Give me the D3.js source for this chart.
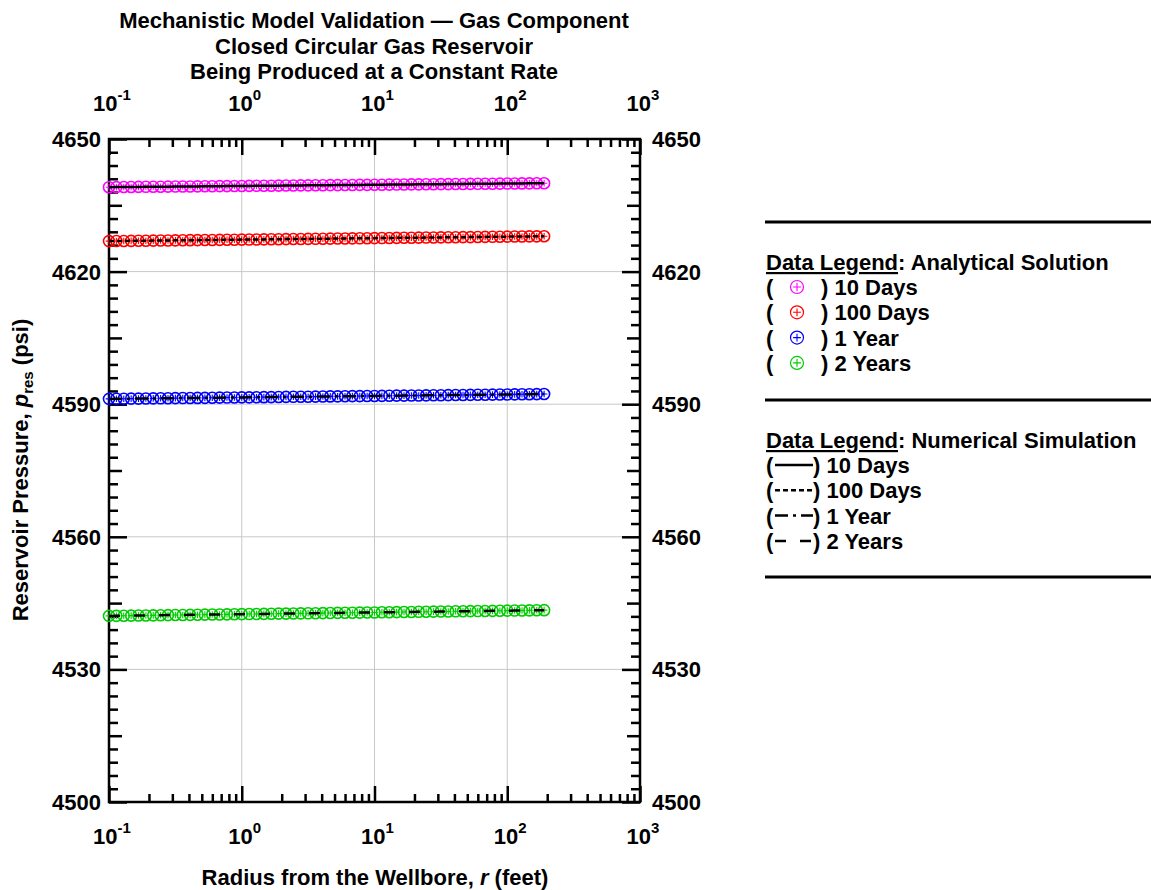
<!DOCTYPE html>
<html lang="en">
<head>
<meta charset="UTF-8">
<title>Mechanistic Model Validation</title>
<script src="https://d3js.org/d3.v7.min.js"></script>
<style>
body { margin: 0; background: #fff; }
text { font-family: "Liberation Sans", Arial, sans-serif; font-weight: bold; fill: #000; }
</style>
</head>
<body>
<svg id="chart" width="1151" height="890"></svg>
<script>
// radius grid (feet), log spaced, 18 per decade
var radius = [0.1, 0.1137, 0.1292, 0.1468, 0.1668, 0.1896, 0.2154, 0.2448, 0.2783, 0.3162,
  0.3594, 0.4084, 0.4642, 0.5275, 0.5995, 0.6813, 0.7743, 0.8799, 1, 1.137,
  1.292, 1.468, 1.668, 1.896, 2.154, 2.448, 2.783, 3.162, 3.594, 4.084,
  4.642, 5.275, 5.995, 6.813, 7.743, 8.799, 10, 11.37, 12.92, 14.68,
  16.68, 18.96, 21.54, 24.48, 27.83, 31.62, 35.94, 40.84, 46.42, 52.75,
  59.95, 68.13, 77.43, 87.99, 100, 113.7, 129.2, 146.8, 166.8, 189.6];

// reservoir pressure (psi) per time
var p10Days = [4639.10, 4639.12, 4639.13, 4639.15, 4639.16, 4639.18, 4639.19, 4639.21, 4639.22, 4639.24,
  4639.25, 4639.27, 4639.28, 4639.30, 4639.31, 4639.33, 4639.34, 4639.36, 4639.37, 4639.39,
  4639.41, 4639.42, 4639.44, 4639.45, 4639.47, 4639.48, 4639.50, 4639.51, 4639.53, 4639.54,
  4639.56, 4639.57, 4639.59, 4639.60, 4639.62, 4639.63, 4639.65, 4639.66, 4639.68, 4639.69,
  4639.71, 4639.73, 4639.74, 4639.76, 4639.77, 4639.79, 4639.80, 4639.82, 4639.83, 4639.85,
  4639.86, 4639.88, 4639.89, 4639.91, 4639.92, 4639.94, 4639.95, 4639.97, 4639.98, 4640.00];
var p100Days = [4626.90, 4626.92, 4626.94, 4626.96, 4626.97, 4626.99, 4627.01, 4627.03, 4627.05, 4627.07,
  4627.09, 4627.11, 4627.12, 4627.14, 4627.16, 4627.18, 4627.20, 4627.22, 4627.24, 4627.25,
  4627.27, 4627.29, 4627.31, 4627.33, 4627.35, 4627.37, 4627.38, 4627.40, 4627.42, 4627.44,
  4627.46, 4627.48, 4627.50, 4627.52, 4627.53, 4627.55, 4627.57, 4627.59, 4627.61, 4627.63,
  4627.65, 4627.66, 4627.68, 4627.70, 4627.72, 4627.74, 4627.76, 4627.78, 4627.79, 4627.81,
  4627.83, 4627.85, 4627.87, 4627.89, 4627.91, 4627.93, 4627.94, 4627.96, 4627.98, 4628.00];
var p1Year = [4591.20, 4591.22, 4591.24, 4591.26, 4591.27, 4591.29, 4591.31, 4591.33, 4591.35, 4591.37,
  4591.39, 4591.41, 4591.42, 4591.44, 4591.46, 4591.48, 4591.50, 4591.52, 4591.54, 4591.55,
  4591.57, 4591.59, 4591.61, 4591.63, 4591.65, 4591.67, 4591.68, 4591.70, 4591.72, 4591.74,
  4591.76, 4591.78, 4591.80, 4591.82, 4591.83, 4591.85, 4591.87, 4591.89, 4591.91, 4591.93,
  4591.95, 4591.96, 4591.98, 4592.00, 4592.02, 4592.04, 4592.06, 4592.08, 4592.09, 4592.11,
  4592.13, 4592.15, 4592.17, 4592.19, 4592.21, 4592.23, 4592.24, 4592.26, 4592.28, 4592.30];
var p2Years = [4542.10, 4542.12, 4542.14, 4542.17, 4542.19, 4542.21, 4542.23, 4542.25, 4542.28, 4542.30,
  4542.32, 4542.34, 4542.36, 4542.39, 4542.41, 4542.43, 4542.45, 4542.47, 4542.50, 4542.52,
  4542.54, 4542.56, 4542.58, 4542.61, 4542.63, 4542.65, 4542.67, 4542.69, 4542.72, 4542.74,
  4542.76, 4542.78, 4542.81, 4542.83, 4542.85, 4542.87, 4542.89, 4542.92, 4542.94, 4542.96,
  4542.98, 4543.00, 4543.03, 4543.05, 4543.07, 4543.09, 4543.11, 4543.14, 4543.16, 4543.18,
  4543.20, 4543.22, 4543.25, 4543.27, 4543.29, 4543.31, 4543.33, 4543.36, 4543.38, 4543.40];

var seriesNames = ["10 Days", "100 Days", "1 Year", "2 Years"];
var yTickValues = [4500, 4530, 4560, 4590, 4620, 4650];
var xDecades = [0.1, 1, 10, 100, 1000];
var xExponents = ["-1", "0", "1", "2", "3"];
var titleLines = ["Mechanistic Model Validation \u2014 Gas Component",
  "Closed Circular Gas Reservoir", "Being Produced at a Constant Rate"];

// styles
var markerColors = ["#ff00ff", "#ff0000", "#0000ff", "#00cc00"];
var dashStyles = [null, "5,3", "13,5,3,5", "11,14"];

var svg = d3.select("#chart");
var L = 109, R = 640, T = 139, B = 802;

var x = d3.scaleLog().domain([0.1, 1000]).range([L, R]);
var y = d3.scaleLinear().domain([4500, 4650]).range([B, T]);

var series = [p10Days, p100Days, p1Year, p2Years].map(function(p, i) {
  return { name: seriesNames[i], pts: radius.map(function(r, j) { return { r: r, p: p[j] }; }) };
});

// title
svg.selectAll(".title").data(titleLines).enter().append("text")
  .attr("x", 374).attr("y", function(d, i) { return 28 + i * 25.5; })
  .attr("text-anchor", "middle").style("font-size", "22px").text(function(d) { return d; });

// grid
var grid = svg.append("g").attr("stroke", "#c8c8c8").attr("stroke-width", 1);
grid.selectAll(".gx").data([1, 10, 100]).enter().append("line")
  .attr("x1", function(d) { return x(d); }).attr("x2", function(d) { return x(d); })
  .attr("y1", T).attr("y2", B);
grid.selectAll(".gy").data([4530, 4560, 4590, 4620]).enter().append("line")
  .attr("y1", function(d) { return y(d); }).attr("y2", function(d) { return y(d); })
  .attr("x1", L).attr("x2", R);

// axes, ticks inward
var minorX = [];
[0.1, 1, 10, 100].forEach(function(d) { for (var k = 2; k <= 9; k++) minorX.push(d * k); });
var minorY = d3.range(4500, 4651, 3).filter(function(v) { return (v - 4500) % 15 !== 0; });
var midY = [4515, 4545, 4575, 4605, 4635];

function axisG(axis, tx, ty) {
  var g = svg.append("g").attr("transform", "translate(" + tx + "," + ty + ")").call(axis);
  g.select(".domain").remove();
  g.selectAll("line").attr("stroke", "#000").attr("stroke-width", 2.5);
  g.selectAll("text").remove();
  return g;
}
[[d3.axisBottom, B], [d3.axisTop, T]].forEach(function(a) {
  axisG(a[0](x).tickValues(minorX).tickSize(-8).tickFormat(""), 0, a[1]);
  axisG(a[0](x).tickValues(xDecades).tickSize(-16).tickFormat(""), 0, a[1]);
});
[[d3.axisLeft, L], [d3.axisRight, R]].forEach(function(a) {
  axisG(a[0](y).tickValues(minorY).tickSize(-9).tickFormat(""), a[1], 0);
  axisG(a[0](y).tickValues(midY).tickSize(-13).tickFormat(""), a[1], 0);
  axisG(a[0](y).tickValues(yTickValues).tickSize(-18).tickFormat(""), a[1], 0);
});

svg.append("rect").attr("x", L).attr("y", T).attr("width", R - L).attr("height", B - T)
  .attr("fill", "none").attr("stroke", "#000").attr("stroke-width", 2.5);

// tick labels
[111, 844].forEach(function(ty) {
  var t = svg.selectAll(null).data(xDecades).enter().append("text")
    .attr("x", function(d) { return x(d) + 3; }).attr("y", ty)
    .attr("text-anchor", "middle").style("font-size", "22px");
  t.append("tspan").text("10");
  t.append("tspan").attr("dy", -11).style("font-size", "15px").text(function(d, i) { return xExponents[i]; });
});
svg.selectAll(null).data(yTickValues).enter().append("text")
  .attr("x", L - 8).attr("y", function(d) { return y(d) + 8; })
  .attr("text-anchor", "end").style("font-size", "22px").text(function(d) { return d; });
svg.selectAll(null).data(yTickValues).enter().append("text")
  .attr("x", R + 12).attr("y", function(d) { return y(d) + 8; })
  .style("font-size", "22px").text(function(d) { return d; });

// axis titles
var xt = svg.append("text").attr("x", 375).attr("y", 885).attr("text-anchor", "middle").style("font-size", "22px");
xt.append("tspan").text("Radius from the Wellbore, ");
xt.append("tspan").style("font-style", "italic").text("r");
xt.append("tspan").text(" (feet)");

var yt = svg.append("text").attr("transform", "translate(28,470) rotate(-90)")
  .attr("text-anchor", "middle").style("font-size", "22px");
yt.append("tspan").text("Reservoir Pressure, ");
yt.append("tspan").style("font-style", "italic").text("p");
yt.append("tspan").attr("dy", 5).style("font-size", "15px").text("res");
yt.append("tspan").attr("dy", -5).text(" (psi)");

// analytical markers
function marker(g, color, rad, sw) {
  g.append("circle").attr("r", rad).attr("fill", "none").attr("stroke", color).attr("stroke-width", sw);
  var k = rad * 0.6;
  g.append("path").attr("d", "M" + (-k) + ",0H" + k + "M0," + (-k) + "V" + k)
    .attr("stroke", color).attr("stroke-width", 1.1);
}
series.forEach(function(s, i) {
  var g = svg.append("g");
  g.selectAll("g").data(s.pts).enter().append("g")
    .attr("transform", function(d) { return "translate(" + x(d.r) + "," + y(d.p) + ")"; })
    .each(function() { marker(d3.select(this), markerColors[i], 5.5, 1.6); });
});

// numerical lines
var line = d3.line().x(function(d) { return x(d.r); }).y(function(d) { return y(d.p); });
series.forEach(function(s, i) {
  svg.append("path").datum(s.pts).attr("d", line).attr("fill", "none")
    .attr("stroke", "#000").attr("stroke-width", 2.5)
    .attr("stroke-dasharray", dashStyles[i]);
});

// legend
var lg = svg.append("g");
[222, 400, 577].forEach(function(ly) {
  lg.append("line").attr("x1", 765).attr("x2", 1151).attr("y1", ly).attr("y2", ly)
    .attr("stroke", "#000").attr("stroke-width", 3);
});
function heading(yb, rest) {
  var t = lg.append("text").attr("x", 766).attr("y", yb).style("font-size", "22px");
  t.append("tspan").style("text-decoration", "underline").text("Data Legend");
  t.append("tspan").text(rest);
}
heading(270, ": Analytical Solution");
heading(448, ": Numerical Simulation");
seriesNames.forEach(function(name, i) {
  var ya = 295 + i * 25.3;
  lg.append("text").attr("x", 766).attr("y", ya).style("font-size", "22px").text("(");
  var m = lg.append("g").attr("transform", "translate(797," + (ya - 8) + ")");
  marker(m, markerColors[i], 6.5, 1.2);
  lg.append("text").attr("x", 821).attr("y", ya).style("font-size", "22px").text(") " + name);

  var yn = 473 + i * 25.3;
  lg.append("text").attr("x", 766).attr("y", yn).style("font-size", "22px").text("(");
  lg.append("line").attr("x1", 775).attr("x2", 813).attr("y1", yn - 8).attr("y2", yn - 8)
    .attr("stroke", "#000").attr("stroke-width", 2.5).attr("stroke-dasharray", dashStyles[i]);
  lg.append("text").attr("x", 813).attr("y", yn).style("font-size", "22px").text(") " + name);
});
</script>
</body>
</html>
